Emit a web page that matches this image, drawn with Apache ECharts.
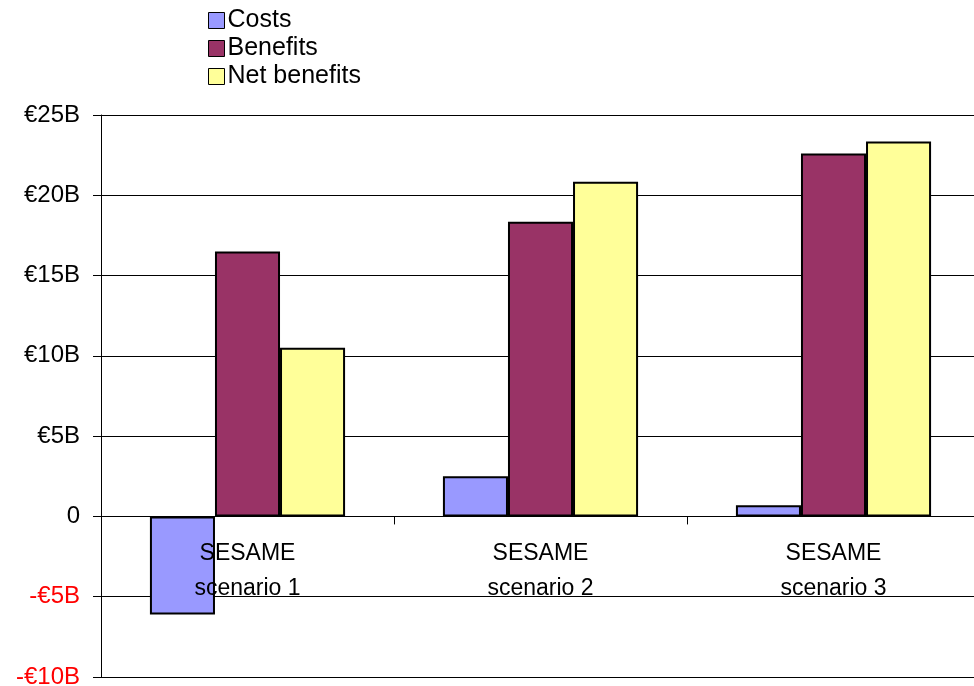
<!DOCTYPE html>
<html><head><meta charset="utf-8">
<script src="https://cdn.jsdelivr.net/npm/echarts@6/dist/echarts.min.js"></script>
<style>html,body{margin:0;padding:0;background:#fff}#c{width:974px;height:686px}</style>
</head><body><div id="c"></div>
<script>
const categories = ['SESAME\nscenario 1', 'SESAME\nscenario 2', 'SESAME\nscenario 3'];
const costs = [-6.1, 2.5, 0.7];
const benefits = [16.5, 18.35, 22.6];
const netBenefits = [10.5, 20.85, 23.35];
const yTickValues = [-10, -5, 0, 5, 10, 15, 20, 25];
const yTickLabels = ['-€10B', '-€5B', '0', '€5B', '€10B', '€15B', '€20B', '€25B'];

const FONT = '"Liberation Sans", Arial, sans-serif';
const chart = echarts.init(document.getElementById('c'), null, {renderer: 'canvas'});
const barStyle = c => ({color: c, borderColor: '#000', borderWidth: 2});
const option = {
  animation: false,
  backgroundColor: '#fff',
  legend: {
    orient: 'vertical', left: 203, top: 3,
    itemWidth: 16, itemHeight: 16, itemGap: 3,
    icon: 'rect',
    textStyle: {fontFamily: FONT, fontSize: 25, lineHeight: 24, color: '#000', padding: [0,0,0,-2]},
    itemStyle: {borderColor: '#000', borderWidth: 1},
    data: ['Costs', 'Benefits', 'Net benefits']
  },
  grid: {left: 101, top: 115, bottom: 9, right: -6, containLabel: false, outerBoundsMode: 'none'},
  xAxis: {
    type: 'category', data: categories, z: 10,
    axisLine: {onZero: false, lineStyle: {color: '#000', width: 1}},
    axisTick: {show: true, inside: false, length: 8, lineStyle: {color: '#000'}},
    axisLabel: {fontFamily: FONT, fontSize: 23, color: '#000', lineHeight: 35, margin: 20, interval: 0}
  },
  yAxis: {
    type: 'value', min: -10, max: 25, interval: 5,
    axisLine: {show: true, lineStyle: {color: '#000'}},
    axisTick: {show: true, length: 8, lineStyle: {color: '#000'}},
    splitLine: {show: true, lineStyle: {color: '#000', width: 1}},
    axisLabel: {
      fontFamily: FONT, fontSize: 24, margin: 21,
      formatter: v => yTickLabels[yTickValues.indexOf(v)],
      color: v => (v < 0 ? '#FF0000' : '#000')
    }
  },
  series: [
    {name: 'Costs', type: 'bar', data: costs, itemStyle: barStyle('#9999FF'), barGap: '0%', barCategoryGap: '33.4%'},
    {name: 'Benefits', type: 'bar', data: benefits, itemStyle: barStyle('#993366'), barGap: '0%', barCategoryGap: '33.4%'},
    {name: 'Net benefits', type: 'bar', data: netBenefits, itemStyle: barStyle('#FFFF99'), barGap: '0%', barCategoryGap: '33.4%'}
  ]
};
chart.setOption(option);
// place the category axis on the zero line using the value axis scale
const yZero = chart.convertToPixel({yAxisIndex: 0}, 0);
const yMin = chart.convertToPixel({yAxisIndex: 0}, yTickValues[0]);
chart.setOption({xAxis: {offset: yZero - yMin}});
</script></body></html>
